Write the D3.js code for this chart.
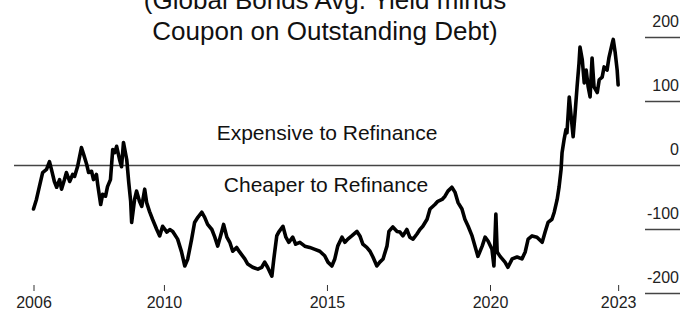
<!DOCTYPE html>
<html>
<head>
<meta charset="utf-8">
<script src="https://cdn.jsdelivr.net/npm/d3@7"></script>
<style>
    body { margin: 0; background: #fff; }
    svg { display: block; font-family: "Liberation Sans", Arial, Helvetica, sans-serif; }
</style>
</head>
<body>
<div id="chart"></div>
<script>
'use strict';

// Series (decimal year, spread in bp)
const years = [2006.00, 2006.09, 2006.18, 2006.28, 2006.40, 2006.49, 2006.55, 2006.64, 2006.71, 2006.80, 2006.86, 2006.95,
    2007.01, 2007.11, 2007.20, 2007.26, 2007.35, 2007.47, 2007.54, 2007.63, 2007.69, 2007.78, 2007.84, 2007.93, 2007.97,
    2008.06, 2008.12, 2008.21, 2008.27, 2008.36, 2008.43, 2008.49, 2008.55, 2008.64, 2008.70, 2008.76, 2008.86, 2008.92, 2008.98,
    2009.01, 2009.10, 2009.16, 2009.25, 2009.32, 2009.41, 2009.47, 2009.56, 2009.65, 2009.78, 2009.87, 2009.96,
    2010.09, 2010.18, 2010.27, 2010.42, 2010.54, 2010.64, 2010.73, 2010.85, 2010.94,
    2011.04, 2011.16, 2011.25, 2011.34, 2011.47, 2011.56, 2011.65, 2011.77, 2011.83, 2011.93,
    2012.02, 2012.11, 2012.23, 2012.32, 2012.48, 2012.57, 2012.72, 2012.88,
    2013.00, 2013.09, 2013.18, 2013.31, 2013.37, 2013.46, 2013.52, 2013.65, 2013.74, 2013.83, 2013.95,
    2014.04, 2014.17, 2014.32, 2014.47, 2014.63, 2014.78, 2014.93,
    2015.03, 2015.15, 2015.24, 2015.33, 2015.46, 2015.55, 2015.64, 2015.76, 2015.92,
    2016.01, 2016.10, 2016.22, 2016.32, 2016.41, 2016.53, 2016.62, 2016.72, 2016.84, 2016.90,
    2017.02, 2017.15, 2017.24, 2017.33, 2017.45, 2017.54, 2017.64, 2017.76, 2017.85, 2017.94,
    2018.07, 2018.16, 2018.31, 2018.40, 2018.53, 2018.62, 2018.71, 2018.83, 2018.93,
    2019.02, 2019.14, 2019.23, 2019.33, 2019.45, 2019.54, 2019.63, 2019.76, 2019.85, 2019.94,
    2020.06, 2020.12, 2020.18, 2020.22, 2020.31, 2020.46, 2020.55, 2020.68, 2020.83, 2020.98,
    2021.08, 2021.17, 2021.29, 2021.44, 2021.60, 2021.69, 2021.78, 2021.90, 2021.97,
    2022.06, 2022.12, 2022.18, 2022.21, 2022.27, 2022.33, 2022.36, 2022.43, 2022.49, 2022.55, 2022.61, 2022.67, 2022.73,
    2022.76, 2022.83, 2022.89, 2022.95, 2023.01, 2023.07, 2023.13, 2023.19, 2023.29, 2023.35, 2023.44, 2023.50, 2023.59,
    2023.65, 2023.75, 2023.78, 2023.84, 2023.90, 2023.93];

const spread = [-68, -53, -33, -11, -6, 6, -6, -25, -34, -22, -37, -22,
    -11, -25, -14, -17, -2, 28, 17, 2, -11, -9, -22, -14, -30,
    -61, -45, -48, -33, -22, 25, 20, 30, 9, -2, 36, 9, -26, -56,
    -89, -53, -40, -56, -64, -37, -58, -72, -84, -100, -110, -95,
    -104, -100, -103, -115, -135, -157, -146, -115, -89,
    -81, -73, -81, -92, -100, -112, -126, -104, -92, -112,
    -120, -134, -128, -135, -146, -154, -159, -162,
    -159, -151, -159, -173, -146, -110, -104, -95, -112, -120, -112,
    -123, -120, -126, -128, -131, -134, -141,
    -151, -157, -146, -126, -112, -120, -115, -110, -103,
    -110, -123, -128, -134, -143, -157, -151, -146, -126, -103,
    -96, -103, -104, -110, -100, -112, -115, -107, -100, -95,
    -84, -68, -61, -56, -53, -48, -40, -34, -42,
    -58, -68, -84, -95, -110, -126, -142, -126, -112, -118,
    -131, -157, -76, -135, -142, -151, -159, -146, -143, -146,
    -135, -115, -110, -112, -120, -104, -89, -84, -73,
    -53, -33, -6, 20, 40, 56, 51, 107, 76, 45, 82, 123, 160,
    185, 165, 129, 149, 123, 107, 168, 123, 114, 134, 138, 154, 149,
    169, 191, 197, 176, 149, 126];

// Axis ticks
const xTicks = [2006, 2010, 2015, 2020, 2023.93];
const xTickLabels = ['2006', '2010', '2015', '2020', '2023'];
const yTicks = [200, 100, 0, -100, -200];

const titleLines = ['(Global Bonds Avg. Yield minus', 'Coupon on Outstanding Debt)'];

const width = 684, height = 326;

const svg = d3.select('#chart').append('svg')
    .attr('width', width)
    .attr('height', height);

const scaleX = d3.scaleLinear()
    .domain([2006, 2020])
    .range([33.5, 490]);

const scaleY = d3.scaleLinear()
    .domain([-200, 200])
    .range([293.5, 37.5]);

// Title (first line runs off the top)
svg.append('g').selectAll('text')
    .data(titleLines)
    .join('text')
    .attr('x', 325)
    .attr('y', (d, i) => 9 + i * 31)
    .attr('text-anchor', 'middle')
    .style('font-size', '26px')
    .style('fill', '#111')
    .text(d => d);

// Zero line
svg.append('line')
    .attr('x1', 14)
    .attr('x2', 680)
    .attr('y1', scaleY(0))
    .attr('y2', scaleY(0))
    .attr('stroke', '#444')
    .attr('stroke-width', 1.5);

// Region labels
svg.append('text')
    .attr('x', 327).attr('y', 140)
    .attr('text-anchor', 'middle')
    .style('font-size', '21px')
    .style('fill', '#111')
    .text('Expensive to Refinance');

svg.append('text')
    .attr('x', 326).attr('y', 192)
    .attr('text-anchor', 'middle')
    .style('font-size', '21px')
    .style('fill', '#111')
    .text('Cheaper to Refinance');

// Right axis: short rule under each label
const axisY = svg.append('g').classed('axis axis-y', true);

axisY.selectAll('line')
    .data(yTicks.filter(d => d !== 0))
    .join('line')
    .attr('x1', 645)
    .attr('x2', 680)
    .attr('y1', d => scaleY(d))
    .attr('y2', d => scaleY(d))
    .attr('stroke', '#444')
    .attr('stroke-width', 1.5);

axisY.selectAll('text')
    .data(yTicks)
    .join('text')
    .attr('x', 679)
    .attr('y', d => scaleY(d) - 11)
    .attr('text-anchor', 'end')
    .style('font-size', '16px')
    .style('fill', '#222')
    .text(d => d);

// Bottom axis
const axisX = svg.append('g')
    .classed('axis axis-x', true)
    .attr('transform', 'translate(0, 285)')
    .call(d3.axisBottom(scaleX)
        .tickValues(xTicks)
        .tickFormat((d, i) => xTickLabels[i])
        .tickSize(6)
        .tickPadding(6));

axisX.select('.domain').remove();
axisX.selectAll('.tick line').attr('stroke', '#333').attr('stroke-width', 1);
axisX.selectAll('.tick text')
    .style('font-size', '16px')
    .style('font-family', '"Liberation Sans", Arial, sans-serif')
    .style('fill', '#222');

// Series line
const line = d3.line()
    .x((d, i) => scaleX(years[i]))
    .y(d => scaleY(d));

svg.append('path')
    .datum(spread)
    .attr('d', line)
    .attr('fill', 'none')
    .attr('stroke', '#000')
    .attr('stroke-width', 3.6)
    .attr('stroke-linejoin', 'round')
    .attr('stroke-linecap', 'round');
</script>
</body>
</html>
